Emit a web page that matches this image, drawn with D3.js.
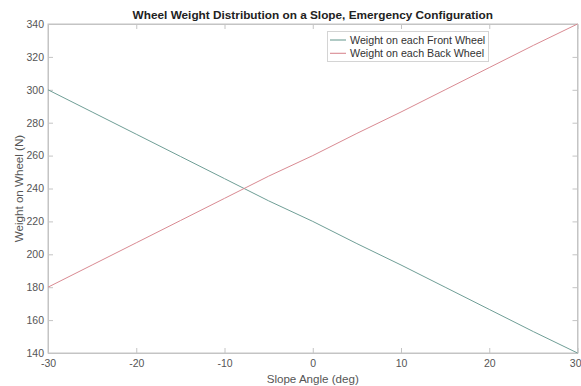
<!DOCTYPE html>
<html><head><meta charset="utf-8">
<script src="https://cdn.jsdelivr.net/npm/d3@7"></script>
<style>body{margin:0;background:#fff}svg{display:block;font-family:"Liberation Sans",Arial,sans-serif}</style>
</head><body><svg id="c" width="581" height="386"></svg>
<script>
const angles = [-30,-25,-20,-15,-10,-5,0,5,10,15,20,25,30];
const frontWheel = [300,286.5,273,259.5,246,232.5,220,206.5,193.5,180,166.5,153,140];
const backWheel = [180,193.5,207,220.5,234,247.5,260,273.5,286.5,300,313.5,327,340];
const xTicks = [-30,-20,-10,0,10,20,30];
const yTicks = [140,160,180,200,220,240,260,280,300,320,340];
const seriesNames = ["Weight on each Front Wheel","Weight on each Back Wheel"];
const titleText = "Wheel Weight Distribution on a Slope, Emergency Configuration";
const xLabel = "Slope Angle (deg)";
const yLabel = "Weight on Wheel (N)";

const svg = d3.select("#c");
const L=48,R=577.5,T=24,B=353;
const x = d3.scaleLinear().domain([-30,30]).range([L,R]);
const y = d3.scaleLinear().domain([140,340]).range([B,T]);
const axisCol="#c4c4c4", textCol="#555";
const fmt = d => String(d);

svg.append("rect").attr("x",L).attr("y",T).attr("width",R-L).attr("height",B-T)
  .attr("fill","none").attr("stroke",axisCol).attr("stroke-width",1);

const gx = svg.append("g").attr("transform",`translate(0,${B})`)
  .call(d3.axisBottom(x).tickValues(xTicks).tickFormat(fmt).tickSizeInner(-5).tickSizeOuter(0).tickPadding(7));
const gy = svg.append("g").attr("transform",`translate(${L},0)`)
  .call(d3.axisLeft(y).tickValues(yTicks).tickFormat(fmt).tickSizeInner(-5).tickSizeOuter(0).tickPadding(4));
const gyr = svg.append("g").attr("transform",`translate(${R},0)`)
  .call(d3.axisRight(y).tickValues(yTicks).tickSizeInner(-5).tickSizeOuter(0).tickFormat(""));
const gxt = svg.append("g").attr("transform",`translate(0,${T})`)
  .call(d3.axisTop(x).tickValues(xTicks).tickSizeInner(-5).tickSizeOuter(0).tickFormat(""));
[gx,gy,gyr,gxt].forEach(g=>{
  g.select(".domain").attr("stroke",axisCol);
  g.selectAll(".tick line").attr("stroke",axisCol);
  g.selectAll(".tick text").attr("fill",textCol).attr("font-size",10.5).attr("font-family","Liberation Sans, Arial, sans-serif");
});
gx.selectAll(".tick text").filter(d=>d===30).attr("text-anchor","end").attr("dx",3.5);

const line = d3.line().x((d,i)=>x(angles[i])).y(d=>y(d));
const colors=["#6f9e96","#d98a92"];
[frontWheel,backWheel].forEach((s,k)=>{
  svg.append("path").datum(s).attr("d",line).attr("fill","none")
    .attr("stroke",colors[k]).attr("stroke-width",1);
});

svg.append("text").attr("x",(L+R)/2).attr("y",19).attr("text-anchor","middle")
  .attr("font-weight","bold").attr("font-size",11.8).attr("fill","#222").text(titleText);
svg.append("text").attr("x",(L+R)/2).attr("y",382.5).attr("text-anchor","middle")
  .attr("font-size",11.6).attr("fill",textCol).text(xLabel);
svg.append("text").attr("transform",`translate(23,${(T+B)/2}) rotate(-90)`).attr("text-anchor","middle")
  .attr("font-size",11.6).attr("fill",textCol).text(yLabel);

const lg = svg.append("g");
lg.append("rect").attr("x",327.5).attr("y",31.5).attr("width",161).attr("height",30)
  .attr("fill","#fff").attr("stroke","#d4d4d4");
seriesNames.forEach((n,i)=>{
  const yy=40+i*13.3;
  lg.append("line").attr("x1",330).attr("x2",346).attr("y1",yy).attr("y2",yy)
    .attr("stroke",colors[i]).attr("stroke-width",1.1);
  lg.append("text").attr("x",350).attr("y",yy+3.7).attr("font-size",10.7).attr("fill","#333").text(n);
});
</script></body></html>
